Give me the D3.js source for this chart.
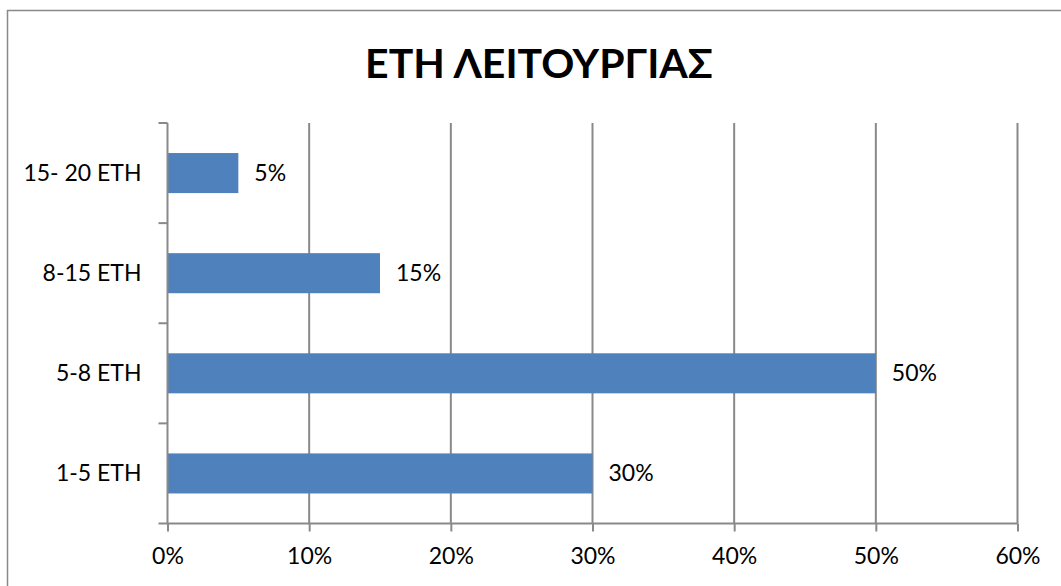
<!DOCTYPE html>
<html>
<head>
<meta charset="utf-8">
<script src="https://cdn.jsdelivr.net/npm/d3@7"></script>
<style>
  body { margin: 0; background: #fff; }
  svg { display: block; font-family: Lato, "Open Sans", sans-serif; }
</style>
</head>
<body>
<svg id="chart" width="1061" height="586"></svg>
<script>
const title = "ΕΤΗ ΛΕΙΤΟΥΡΓΙΑΣ";
const categories = ["1-5 ΕΤΗ", "5-8 ΕΤΗ", "8-15 ΕΤΗ", "15- 20 ΕΤΗ"];
const values = [0.30, 0.50, 0.15, 0.05];
const xTicks = [0, 0.1, 0.2, 0.3, 0.4, 0.5, 0.6];

const svg = d3.select("#chart");
const width = 1061, height = 586;
const margins = { top: 123, right: 43.5, bottom: 62.5, left: 167.5 };
const innerW = width - margins.left - margins.right;
const innerH = height - margins.top - margins.bottom;
const gridColour = "#898989";
const barColour = "#4f81bd";

// outer frame, runs off the right and bottom edge like the reference
svg.append("rect")
  .attr("x", 7.5).attr("y", 10.5)
  .attr("width", 1100).attr("height", 700)
  .attr("fill", "none")
  .attr("stroke", gridColour)
  .attr("stroke-width", 1.5);

svg.append("text")
  .attr("x", 539).attr("y", 78)
  .attr("text-anchor", "middle")
  .attr("font-size", 41)
  .attr("font-weight", "bold")
  .attr("fill", "#000")
  .text(title);

const x = d3.scaleLinear().domain([0, 0.6]).range([0, innerW]);
const y = d3.scaleBand()
  .domain(categories.slice().reverse())
  .range([0, innerH])
  .paddingInner(0.6)
  .paddingOuter(0.3);
const yEdges = d3.scaleBand().domain(categories.slice().reverse()).range([0, innerH]);

const bounds = svg.append("g")
  .attr("transform", `translate(${margins.left},${margins.top})`);

// vertical gridlines
bounds.append("g")
  .selectAll("line")
  .data(xTicks.slice(1))
  .join("line")
  .attr("x1", d => x(d)).attr("x2", d => x(d))
  .attr("y1", 0).attr("y2", innerH)
  .attr("stroke", gridColour)
  .attr("stroke-width", 2);

// bars
bounds.append("g")
  .selectAll("rect")
  .data(categories.map((c, i) => ({ cat: c, val: values[i] })))
  .join("rect")
  .attr("x", 0)
  .attr("y", d => y(d.cat))
  .attr("width", d => x(d.val))
  .attr("height", y.bandwidth())
  .attr("fill", barColour);

// data labels
bounds.append("g")
  .selectAll("text")
  .data(categories.map((c, i) => ({ cat: c, val: values[i] })))
  .join("text")
  .attr("x", d => x(d.val) + 16)
  .attr("y", d => y(d.cat) + y.bandwidth() / 2)
  .attr("dy", "0.35em")
  .attr("font-size", 23)
  .attr("fill", "#000")
  .text(d => d3.format(".0%")(d.val));

// x axis
const xAxis = bounds.append("g")
  .attr("transform", `translate(0,${innerH})`)
  .call(d3.axisBottom(x).tickValues(xTicks).tickFormat(d3.format(".0%")).tickSize(8).tickPadding(16));
xAxis.select(".domain").attr("stroke", gridColour).attr("stroke-width", 2).attr("d", `M-9,0H${innerW}`);
xAxis.selectAll(".tick line").attr("stroke", gridColour).attr("stroke-width", 2);
xAxis.selectAll("text").attr("font-size", 23).attr("font-family", "Lato").attr("fill", "#000");

// y axis: ticks sit on the category edges
const yAxisG = bounds.append("g");
yAxisG.append("line")
  .attr("x1", 0).attr("x2", 0).attr("y1", 0).attr("y2", innerH)
  .attr("stroke", gridColour).attr("stroke-width", 2);
yAxisG.selectAll("line.edge")
  .data(categories.map(c => yEdges(c)))
  .join("line")
  .attr("class", "edge")
  .attr("x1", -9).attr("x2", 0)
  .attr("y1", d => d).attr("y2", d => d)
  .attr("stroke", gridColour).attr("stroke-width", 2);
yAxisG.selectAll("text")
  .data(categories)
  .join("text")
  .attr("x", -26)
  .attr("y", d => y(d) + y.bandwidth() / 2)
  .attr("dy", "0.35em")
  .attr("text-anchor", "end")
  .attr("font-size", 23)
  .attr("fill", "#000")
  .text(d => d);
</script>
</body>
</html>
